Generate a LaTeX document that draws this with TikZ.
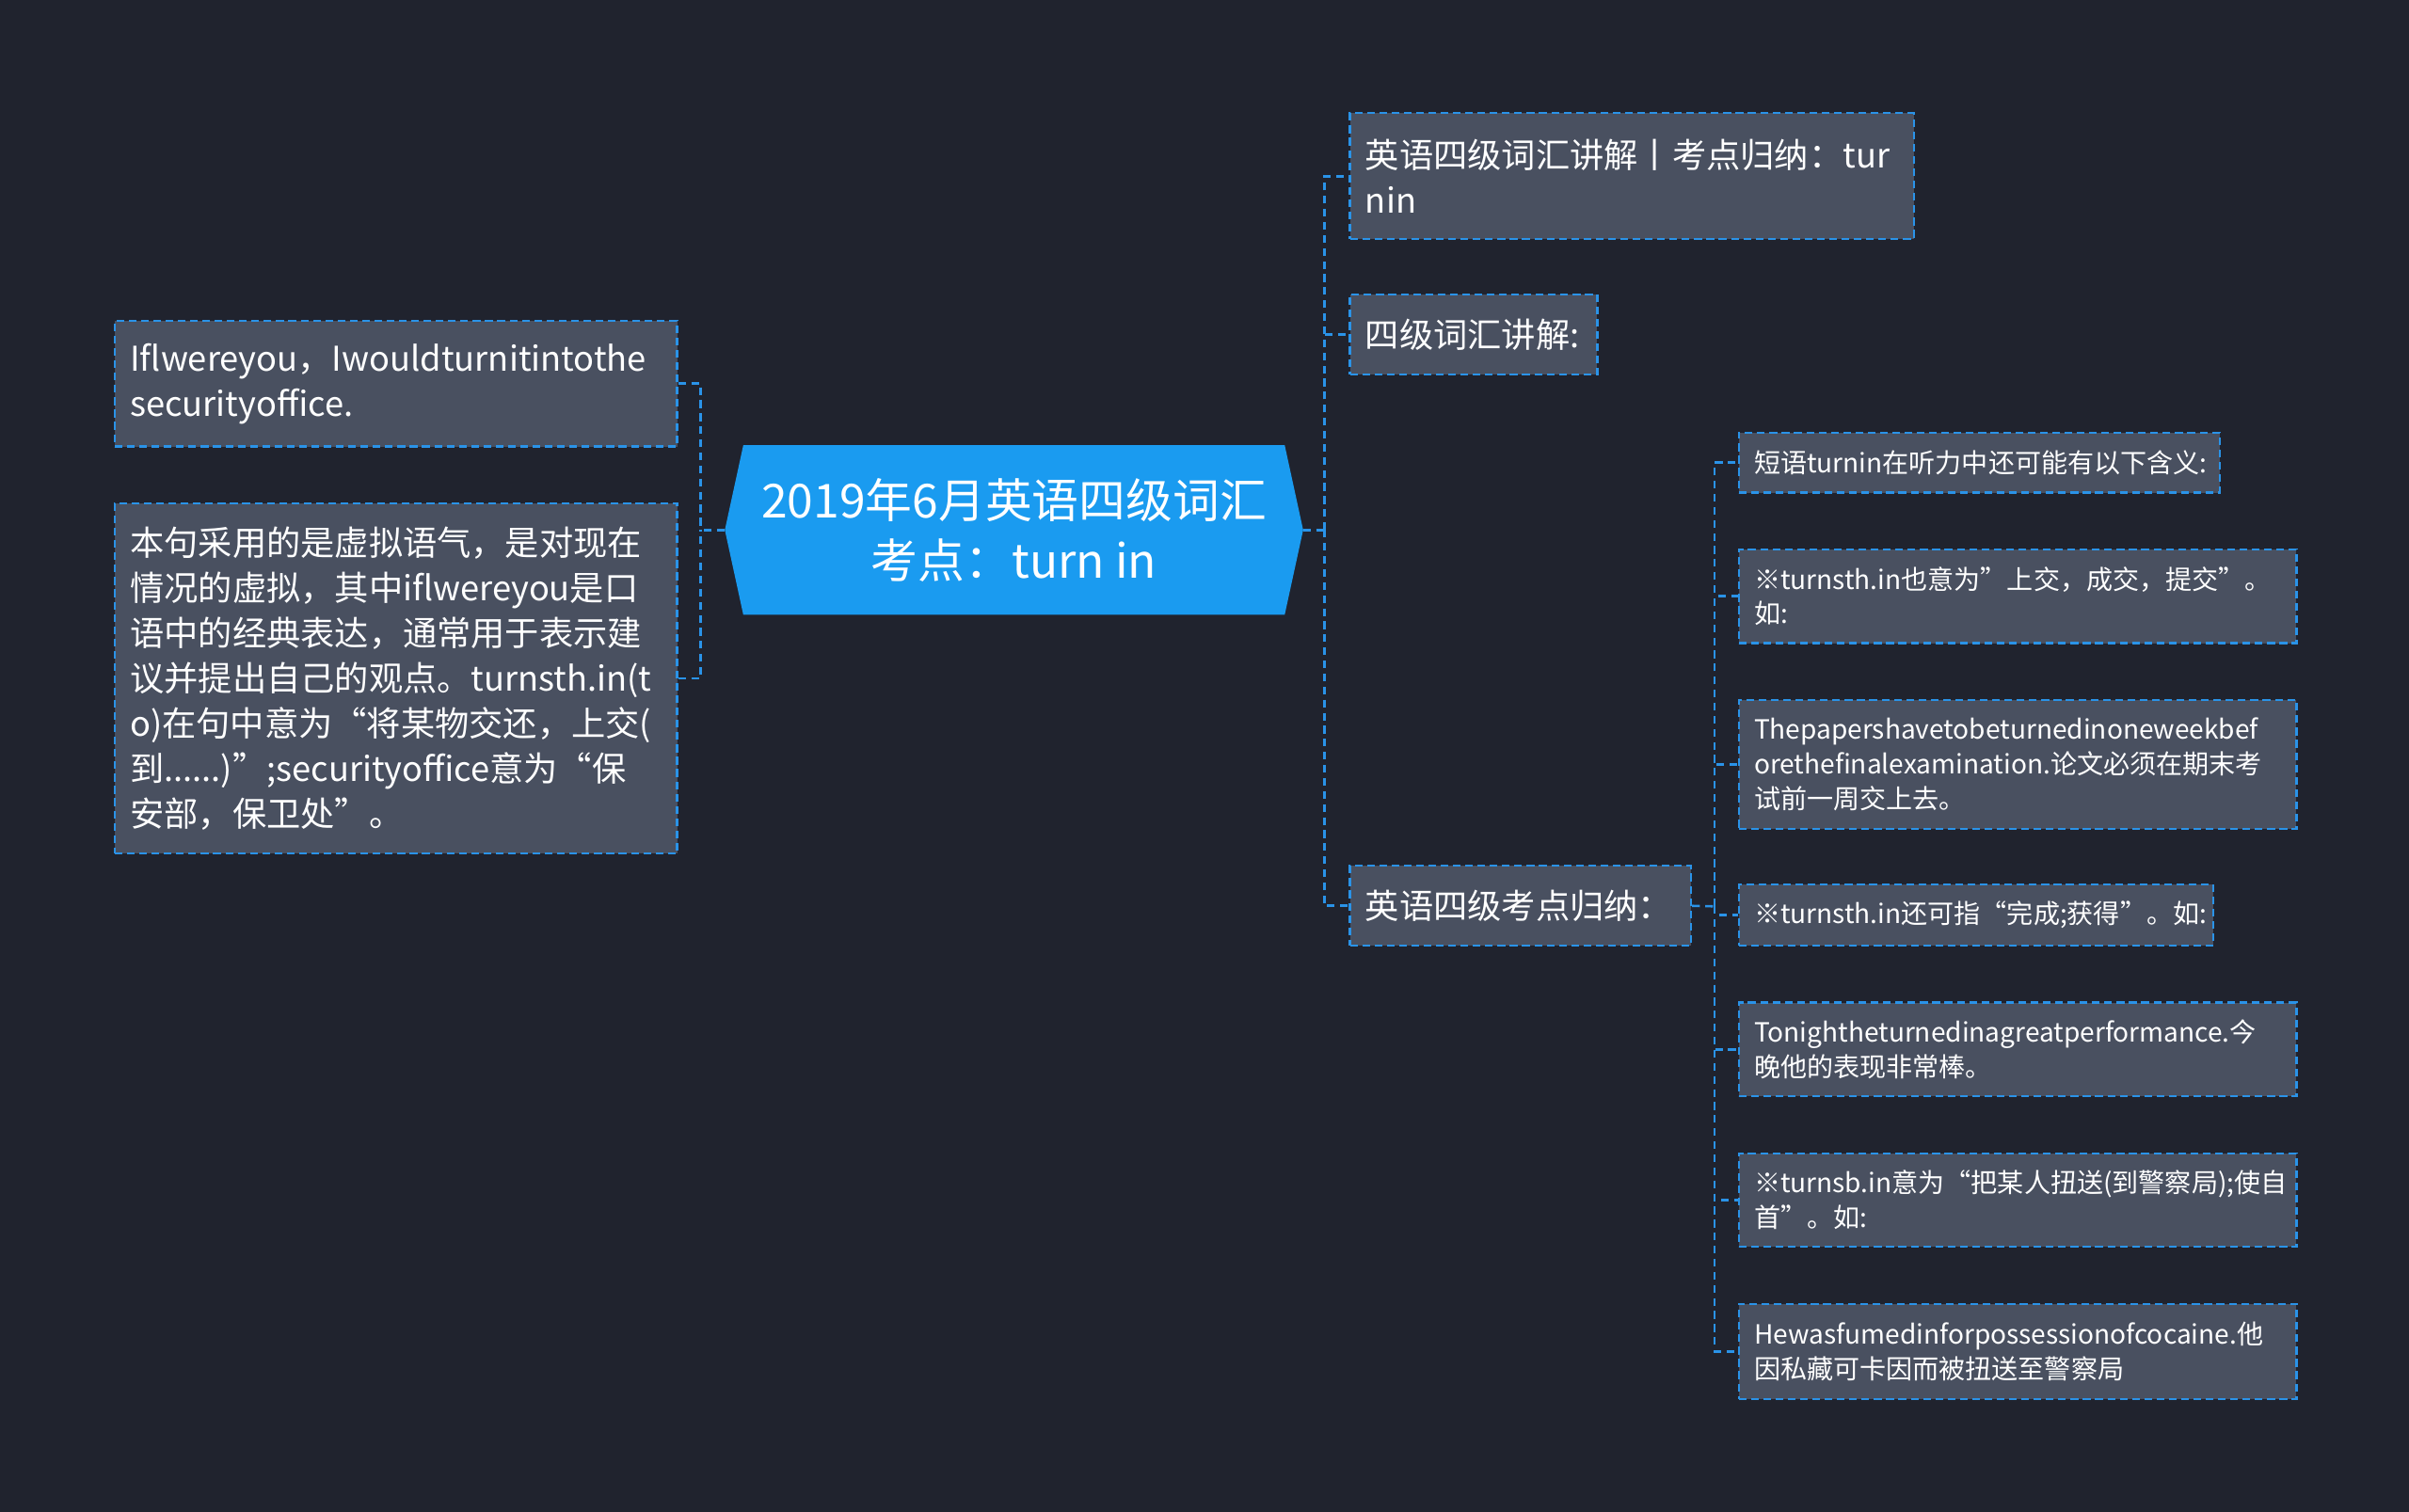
\documentclass[tikz,border=0pt]{standalone}
\usepackage{fontspec}
\setmainfont{Noto Sans CJK SC}
\usetikzlibrary{backgrounds,calc}
\definecolor{bgc}{HTML}{20232E}
\definecolor{boxfill}{HTML}{495060}
\definecolor{edge}{HTML}{2A93E8}
\definecolor{cfill}{HTML}{1A9BF0}
\begin{document}
\begin{tikzpicture}[x=1pt,y=-1pt,
  box/.style={draw=edge, fill=boxfill, dash pattern=on 5pt off 3pt, line width=1.4pt,
    text=white, anchor=north west, inner xsep=10pt, inner ysep=0pt, align=left},
  big/.style={font=\fontsize{22.2}{29.5}\selectfont},
  small/.style={font=\fontsize{17.2}{22.5}\selectfont},
  conn/.style={draw=edge, line width=1.6pt, dash pattern=on 5pt off 3.5pt}]
\useasboundingbox (0,0) rectangle (1568,984);
% central
\node[text=white, inner sep=0pt, minimum width=352pt, minimum height=110pt, align=center,
  font=\fontsize{30.5}{39}\selectfont] (c) at (660,345) {2019年6月英语四级词汇\\考点：turn in};
\begin{scope}[on background layer]
  \fill[bgc] (0,0) rectangle (1568,984);
  \fill[cfill] (c.north west) -- (c.north east) -- ([xshift=12pt]c.east) -- (c.south east)
    -- (c.south west) -- ([xshift=-12pt]c.west) -- cycle;
\end{scope}
\coordinate (cw) at ([xshift=-12pt]c.west);
\coordinate (ce) at ([xshift=12pt]c.east);
% left
\node[box, big, minimum width=366pt, minimum height=82pt, text width=346pt] (L1) at (74,208)
  {Iflwereyou，Iwouldturnitintothe\\securityoffice.};
\node[box, big, minimum width=366pt, minimum height=228pt, text width=346pt] (L2) at (74,327)
  {本句采用的是虚拟语气，是对现在\\情况的虚拟，其中iflwereyou是口\\语中的经典表达，通常用于表示建\\议并提出自己的观点。turnsth.in(t\\o)在句中意为“将某物交还，上交(\\到......)”;securityoffice意为“保\\安部，保卫处”。};
\coordinate (jL) at (456,345);
\draw[conn] (cw) -- (jL);
\draw[conn] (L1.east) -| (jL);
\draw[conn] (L2.east) -| (jL);
% right level 1
\node[box, big, minimum width=367pt, minimum height=82pt, text width=347pt] (R1) at (878,73)
  {英语四级词汇讲解丨考点归纳：tur\\nin};
\node[box, big, minimum width=161pt, minimum height=52pt, text width=141pt] (R2) at (878,191)
  {四级词汇讲解:};
\node[box, big, minimum width=222pt, minimum height=52pt, text width=202pt] (R3) at (878,563)
  {英语四级考点归纳：};
\coordinate (jR) at (862,345);
\draw[conn] (ce) -- (jR);
\draw[conn] (jR) |- (R1.west);
\draw[conn] (jR) |- (R2.west);
\draw[conn] (jR) |- (R3.west);
% children
\node[box, small, minimum width=313pt, minimum height=39pt, text width=293pt] (C1) at (1131,281)
  {短语turnin在听力中还可能有以下含义:};
\node[box, small, minimum width=363pt, minimum height=61pt, text width=343pt] (C2) at (1131,357)
  {※turnsth.in也意为”上交，成交，提交”。\\如:};
\node[box, small, minimum width=363pt, minimum height=84pt, text width=343pt] (C3) at (1131,455)
  {Thepapershavetobeturnedinoneweekbef\\orethefinalexamination.论文必须在期末考\\试前一周交上去。};
\node[box, small, minimum width=309pt, minimum height=40pt, text width=289pt] (C4) at (1131,575)
  {※turnsth.in还可指“完成;获得”。如:};
\node[box, small, minimum width=363pt, minimum height=61pt, text width=343pt] (C5) at (1131,652)
  {Tonightheturnedinagreatperformance.今\\晚他的表现非常棒。};
\node[box, small, minimum width=363pt, minimum height=61pt, text width=343pt] (C6) at (1131,750)
  {※turnsb.in意为“把某人扭送(到警察局);使自\\首”。如:};
\node[box, small, minimum width=363pt, minimum height=62pt, text width=343pt] (C7) at (1131,848)
  {Hewasfumedinforpossessionofcocaine.他\\因私藏可卡因而被扭送至警察局};
\coordinate (jC) at (1116,590);
\draw[conn] (R3.east) -- (jC);
\foreach \k in {C1,C2,C3,C4,C5,C6,C7} { \draw[conn] (jC) |- (\k.west); }
\end{tikzpicture}
\end{document}
